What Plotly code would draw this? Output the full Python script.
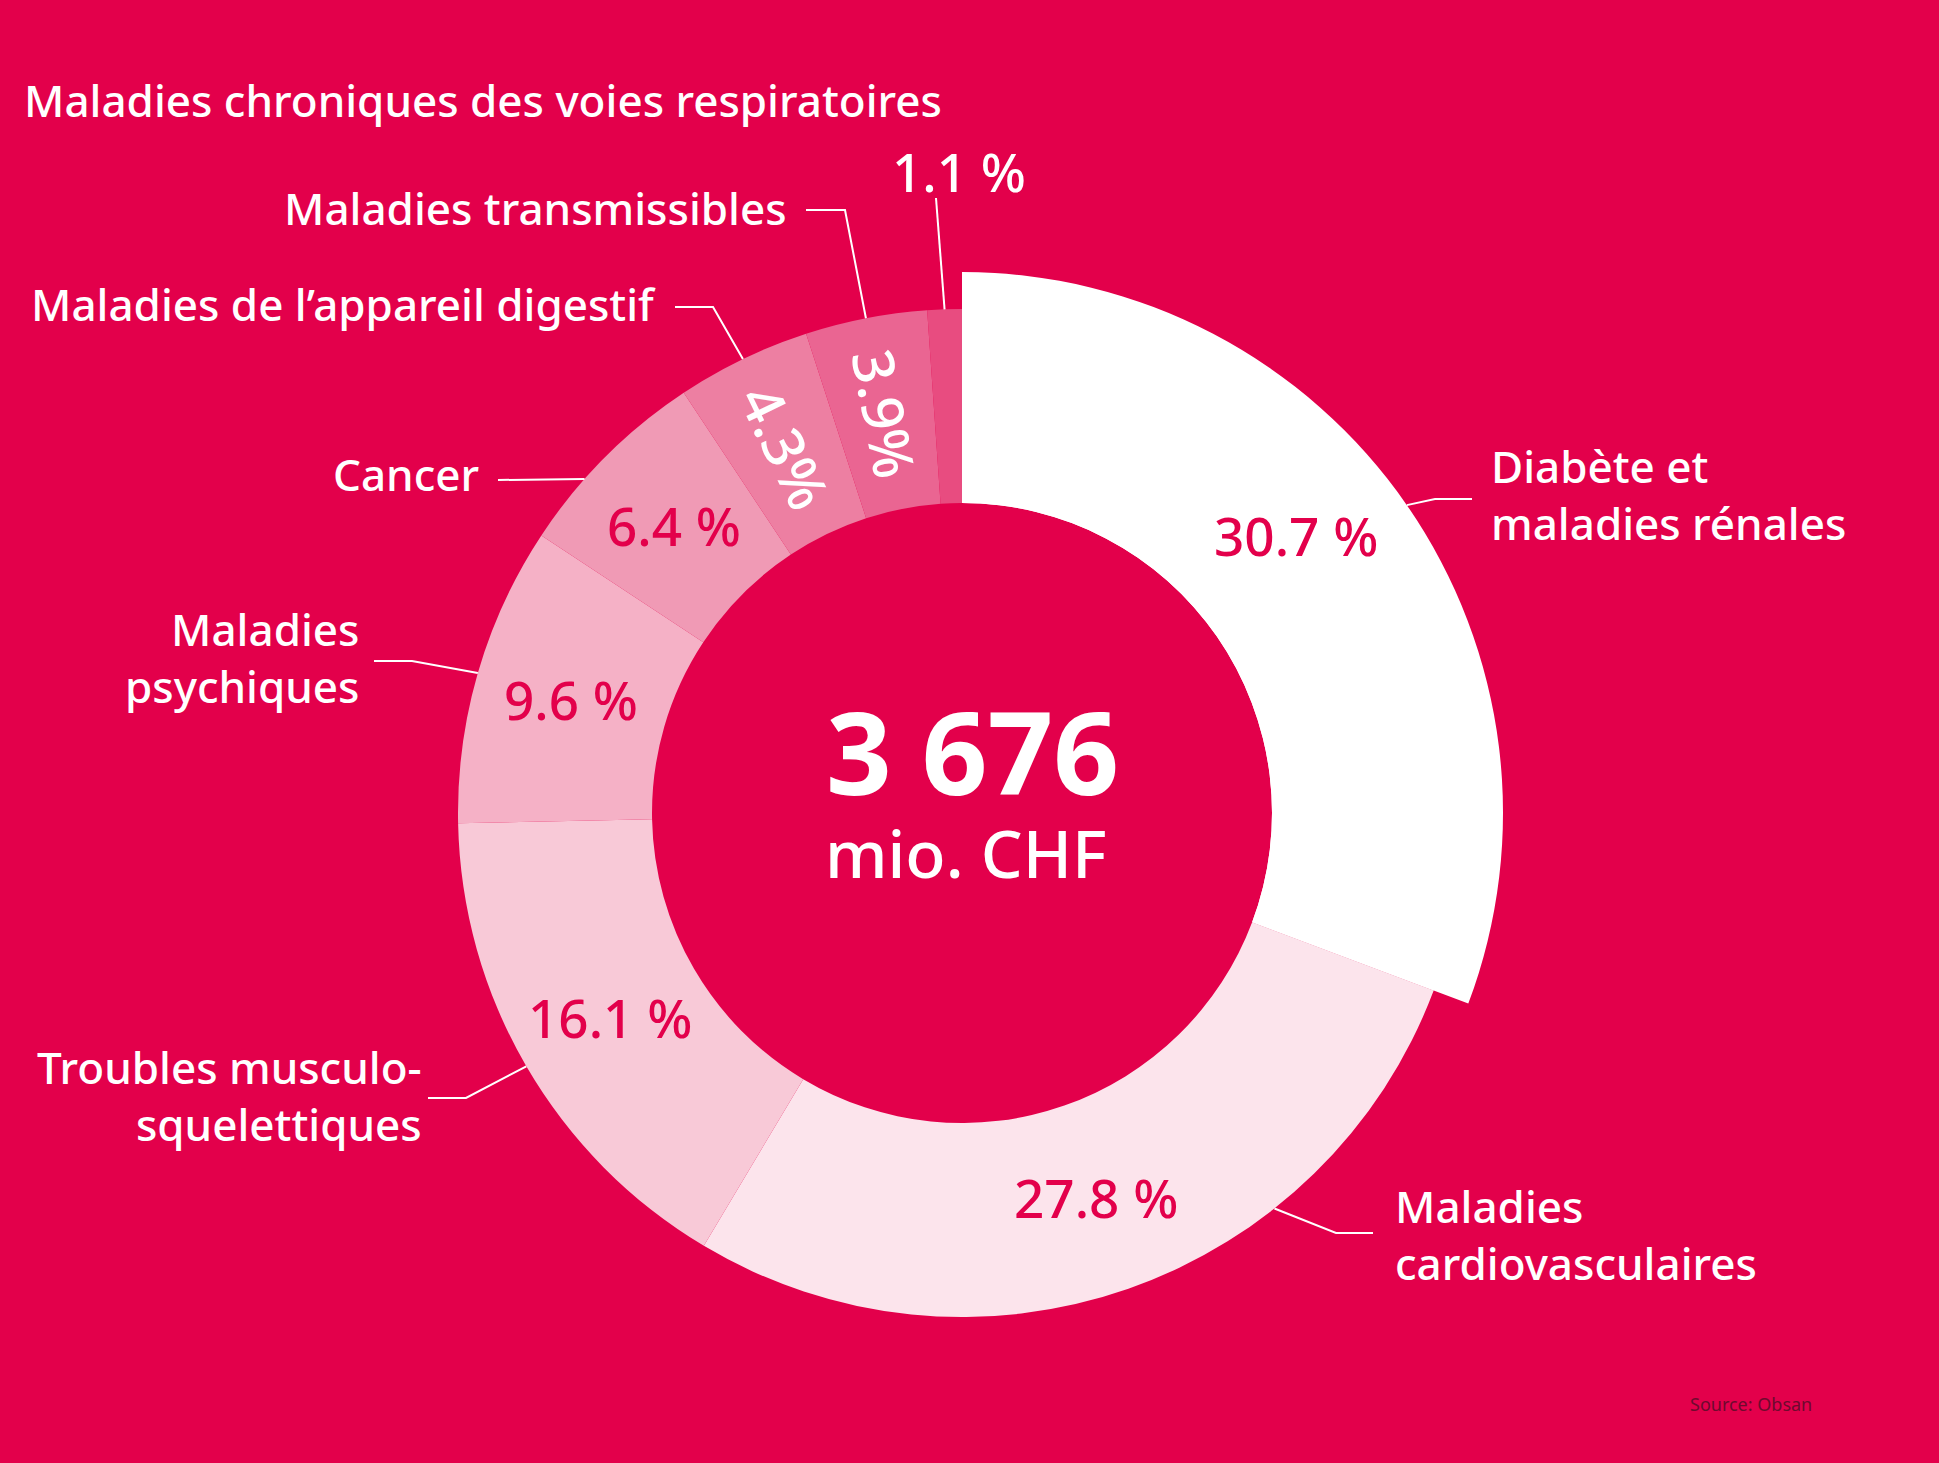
import math
import plotly.graph_objects as go

# taille de l'image
W, H = 1939, 1463
BG = '#E3004B'

# données
categories = ['Diabète et maladies rénales', 'Maladies cardiovasculaires',
              'Troubles musculo-squelettiques', 'Maladies psychiques', 'Cancer',
              'Maladies de l’appareil digestif', 'Maladies transmissibles',
              'Maladies chroniques des voies respiratoires']
parts = [30.7, 27.8, 16.1, 9.6, 6.4, 4.3, 3.9, 1.1]
pct_text = ['30.7 %', '27.8 %', '16.1 %', '9.6 %', '6.4 %', '4.3%', '3.9%', '1.1 %']
label_text = ['Diabète et<br>maladies rénales', 'Maladies<br>cardiovasculaires',
              'Troubles musculo-<br>squelettiques', 'Maladies<br>psychiques', 'Cancer',
              'Maladies de l’appareil digestif', 'Maladies transmissibles',
              'Maladies chroniques des voies respiratoires']
slice_colors = ['#FFFFFF', '#FCE4EC', '#F8C9D7', '#F5B1C6', '#F09AB5', '#ED7FA2', '#EA6592', '#E84C80']
total_label = '3 676'
unit_label = 'mio. CHF'
source = 'Source: Obsan'

# géométrie de l'anneau (pixels)
cx, cy = 962, 813
r_out, r_in, r_big = 504, 310, 541
FONT = 'Noto Sans'

def px(x):
    return x / W

def py(y):
    return 1 - y / H

def domaine(r):
    return dict(x=[px(cx - r), px(cx + r)], y=[py(cy + r), py(cy - r)])

tot = sum(parts)

def angle(i, frac=0.5):
    return (sum(parts[:i]) + frac * parts[i]) / tot * 360

def point(theta, r):
    t = math.radians(theta)
    return cx + r * math.sin(t), cy - r * math.cos(t)

fig = go.Figure()
fig.add_trace(go.Pie(values=parts, labels=categories, sort=False, direction='clockwise',
                     rotation=0, hole=r_in / r_out, domain=domaine(r_out),
                     marker=dict(colors=slice_colors, line=dict(width=0)),
                     textinfo='none', hoverinfo='label+percent'))
# la tranche blanche dépasse un peu
fig.add_trace(go.Pie(values=parts, labels=categories, sort=False, direction='clockwise',
                     rotation=0, hole=r_in / r_big, domain=domaine(r_big),
                     marker=dict(colors=['#FFFFFF'] + ['rgba(0,0,0,0)'] * 7, line=dict(width=0)),
                     textinfo='none', hoverinfo='skip'))

annotations = []
# pourcentages dans l'anneau
r_lab = [434, 407, 407, 407, 407, 407, 407]
frac_lab = [0.455, 0.5, 0.5, 0.5, 0.5, 0.5, 0.5]
for i in range(7):
    th = angle(i, frac_lab[i])
    x, y = point(th, r_lab[i])
    radial = i >= 5
    annotations.append(dict(x=px(x), y=py(y), xref='paper', yref='paper', text=pct_text[i],
                            showarrow=False, xanchor='center', yanchor='middle',
                            textangle=th - 270 if radial else 0,
                            font=dict(family=FONT, size=57 if radial else 53, weight=500,
                                      color='white' if radial else BG)))
annotations.append(dict(x=px(959), y=py(171), xref='paper', yref='paper', text=pct_text[7],
                        showarrow=False, xanchor='center', yanchor='middle',
                        font=dict(family=FONT, size=53, weight=500, color='white')))

# étiquettes
lab_pos = [(1489, 494, 'left'), (1393, 1234, 'left'), (424, 1095, 'right'), (361, 657, 'right'),
           (481, 474, 'right'), (658, 304, 'right'), (789, 208, 'right'), (22, 100, 'left')]
for txt, (x, y, anc) in zip(label_text, lab_pos):
    annotations.append(dict(x=px(x), y=py(y), xref='paper', yref='paper', text=txt,
                            showarrow=False, xanchor=anc, yanchor='middle', align=anc,
                            font=dict(family=FONT, size=44, weight=500, color='white')))

# total au centre
annotations.append(dict(x=px(972), y=py(750), xref='paper', yref='paper', text='<b>' + total_label + '</b>',
                        showarrow=False, yanchor='middle',
                        font=dict(family=FONT, size=115, color='white')))
annotations.append(dict(x=px(966), y=py(852), xref='paper', yref='paper', text=unit_label,
                        showarrow=False, yanchor='middle',
                        font=dict(family=FONT, size=66, weight=500, color='white')))
annotations.append(dict(x=px(1688), y=py(1404), xref='paper', yref='paper', text=source,
                        showarrow=False, xanchor='left', yanchor='middle',
                        font=dict(family=FONT, size=18, color='#6E0A2E')))

# traits de rappel
leaders = [((1472, 499), (1435, 499), r_big, 0.5),
           ((1373, 1233), (1336, 1233), r_out, 0.31),
           ((428, 1098), (466, 1098), r_out, 0.5),
           ((374, 661), (412, 661), r_out, 0.5),
           ((498, 480), None, r_out, 0.35),
           ((675, 307), (713, 307), r_out, 0.5),
           ((806, 210), (845, 210), r_out, 0.5),
           ((936, 198), None, r_out, 0.5)]
shapes = []
for i, (start, elbow, r, f) in enumerate(leaders):
    pts = [start] + ([elbow] if elbow else []) + [point(angle(i, f), r)]
    path = 'M ' + ' L '.join('%.5f %.5f' % (px(a), py(b)) for a, b in pts)
    shapes.append(dict(type='path', path=path, xref='paper', yref='paper',
                       line=dict(color='white', width=2)))

fig.update_layout(width=W, height=H, margin=dict(l=0, r=0, t=0, b=0),
                  paper_bgcolor=BG, plot_bgcolor=BG, showlegend=False,
                  annotations=annotations, shapes=shapes)

fig.write_html("out.html", config={'displayModeBar': False},
               post_script="document.body.style.margin='0';")
